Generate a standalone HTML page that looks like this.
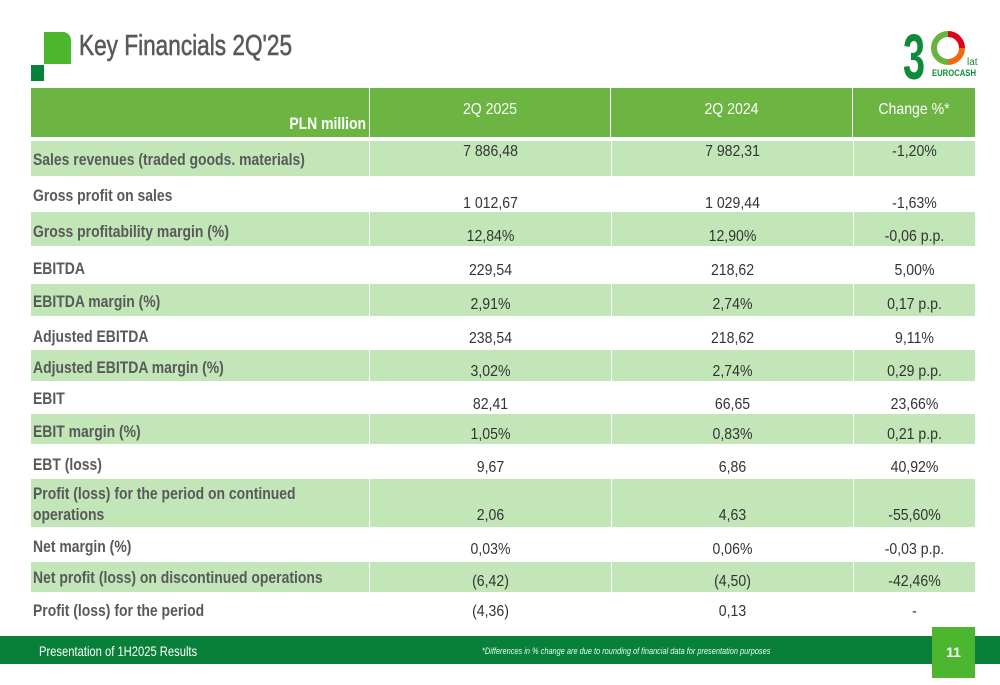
<!DOCTYPE html>
<html><head><meta charset="utf-8"><style>
*{margin:0;padding:0;box-sizing:border-box}
body{width:1000px;height:685px;position:relative;background:#fff;font-family:"Liberation Sans",sans-serif;overflow:hidden}
.abs{position:absolute}
.row{position:absolute;left:31px;width:944px}
.shade .c{background:#c2e6b8}
.c{position:absolute;top:0;bottom:0}
.lab{position:absolute;left:2px;color:#595959;font-weight:bold;font-size:17px;line-height:21px;white-space:nowrap;transform:scaleX(0.82);transform-origin:left top}
.val{position:absolute;color:#333;font-size:16px;line-height:20px;text-align:center;white-space:nowrap;transform:scaleX(0.88)}
.hd{position:absolute;color:#fff;font-size:16px;text-align:center;transform:scaleX(0.88)}
</style></head><body>
<div class="abs" style="left:44px;top:32px;width:27px;height:32px;background:#4cb72e;border-top-right-radius:8px"></div>
<div class="abs" style="left:31px;top:65px;width:13px;height:16px;background:#08823a"></div>
<div class="abs" style="left:79px;top:30px;font-size:29px;color:#58595b;transform:scaleX(0.78);transform-origin:left top;white-space:nowrap;-webkit-text-stroke:0.6px #58595b">Key Financials 2Q'25</div>

<svg class="abs" style="left:900px;top:24px" width="80" height="62">
<text x="3" y="55" font-size="64" font-weight="bold" fill="#0e8a3a" font-family="Liberation Sans,sans-serif" transform="scale(0.62,1)" transform-origin="3 55">3</text>
<path d="M48 10 A14 14 0 0 1 62 24" stroke="#e3001b" stroke-width="6" fill="none"/>
<path d="M62 24 A14 14 0 0 1 48 38" stroke="#ee6a10" stroke-width="6" fill="none"/>
<path d="M48 38 A14 14 0 0 1 48 10" stroke="#6ab43e" stroke-width="6" fill="none"/>
<text x="67" y="41" font-size="10" fill="#0e8a3a" font-family="Liberation Sans,sans-serif">lat</text>
<text x="32" y="52" font-size="9" font-weight="bold" fill="#0e8a3a" font-family="Liberation Sans,sans-serif" textLength="44" lengthAdjust="spacingAndGlyphs">EUROCASH</text>
</svg>

<div class="abs" style="left:31px;top:88px;width:944px;height:49px;background:#6db543"></div>
<div class="abs" style="left:369px;top:88px;width:1px;height:49px;background:#fff"></div>
<div class="abs" style="left:610px;top:88px;width:1px;height:49px;background:#fff"></div>
<div class="abs" style="left:852px;top:88px;width:1px;height:49px;background:#fff"></div>
<div class="hd" style="left:200px;width:166px;top:114px;text-align:right;font-weight:bold;font-size:17px;transform:scaleX(0.82);transform-origin:right top">PLN million</div>
<div class="hd" style="left:370px;width:240px;top:101px">2Q 2025</div>
<div class="hd" style="left:611px;width:241px;top:101px">2Q 2024</div>
<div class="hd" style="left:853px;width:122px;top:101px">Change %*</div>

<div id="rows"></div>

<div class="abs" style="left:0;top:636px;width:1000px;height:28px;background:#08803a"></div>
<div class="abs" style="left:39px;top:643px;color:#fff;font-size:14px;transform:scaleX(0.8);transform-origin:left top;white-space:nowrap">Presentation of 1H2025 Results</div>
<div class="abs" style="left:482px;top:646px;color:#dfe;font-size:9px;font-style:italic;transform:scaleX(0.82);transform-origin:left top;white-space:nowrap">*Differences in % change are due to rounding of financial data for presentation purposes</div>
<div class="abs" style="left:932px;top:627px;width:43px;height:51px;background:#4cb72e;color:#fff;font-size:14px;font-weight:bold;text-align:center;line-height:51px">11</div>

<script>
const rowTops=[141,177,212,247,284,317,350,382,414,445,479,528,562,593];
const rowBottoms=[177,212,247,284,317,350,382,414,445,479,528,562,593,635];
const labels=["Sales revenues (traded goods. materials)","Gross profit on sales","Gross profitability margin (%)","EBITDA","EBITDA margin (%)","Adjusted EBITDA","Adjusted EBITDA margin (%)","EBIT","EBIT margin (%)","EBT (loss)","Profit (loss) for the period on continued<br>operations","Net margin (%)","Net profit (loss) on discontinued operations","Profit (loss) for the period"];
const v2025=["7 886,48","1 012,67","12,84%","229,54","2,91%","238,54","3,02%","82,41","1,05%","9,67","2,06","0,03%","(6,42)","(4,36)"];
const v2024=["7 982,31","1 029,44","12,90%","218,62","2,74%","218,62","2,74%","66,65","0,83%","6,86","4,63","0,06%","(4,50)","0,13"];
const chg=["-1,20%","-1,63%","-0,06 p.p.","5,00%","0,17 p.p.","9,11%","0,29 p.p.","23,66%","0,21 p.p.","40,92%","-55,60%","-0,03 p.p.","-42,46%","-"];
const labY=[159,195,231,268,301,336,367,398,431,464,493,546,577,610];
const valY=[152,204,237,271,305,339,372,405,435,468,516,550,582,612];
const cont=document.getElementById('rows');
labels.forEach((l,i)=>{
  const shade=[0,2,4,6,8,10,12].includes(i);
  const r=document.createElement('div');
  r.className='row'+(shade?' shade':'');
  
  
  const t=rowTops[i],h=rowBottoms[i]-t-(shade?1:0);
  r.style.top=t+'px';r.style.height=h+'px';
  const cols=[[0,338],[339,241],[581,241],[823,121]];
  cols.forEach(c=>{const d=document.createElement('div');d.className='c';d.style.left=c[0]+'px';d.style.width=c[1]+'px';
    
    
    r.appendChild(d);});
  const lb=document.createElement('div');lb.className='lab';lb.innerHTML=l;
  
  
  lb.style.top=(labY[i]-t-10)+'px';r.appendChild(lb);
  [[v2025[i],339,241],[v2024[i],581,241],[chg[i],823,121]].forEach(([v,x,w])=>{
    const d=document.createElement('div');d.className='val';d.textContent=v;
    
    
    d.style.left=x+'px';d.style.width=w+'px';d.style.top=(valY[i]-t-10)+'px';r.appendChild(d);});
  cont.appendChild(r);
});
</script>
</body></html>
